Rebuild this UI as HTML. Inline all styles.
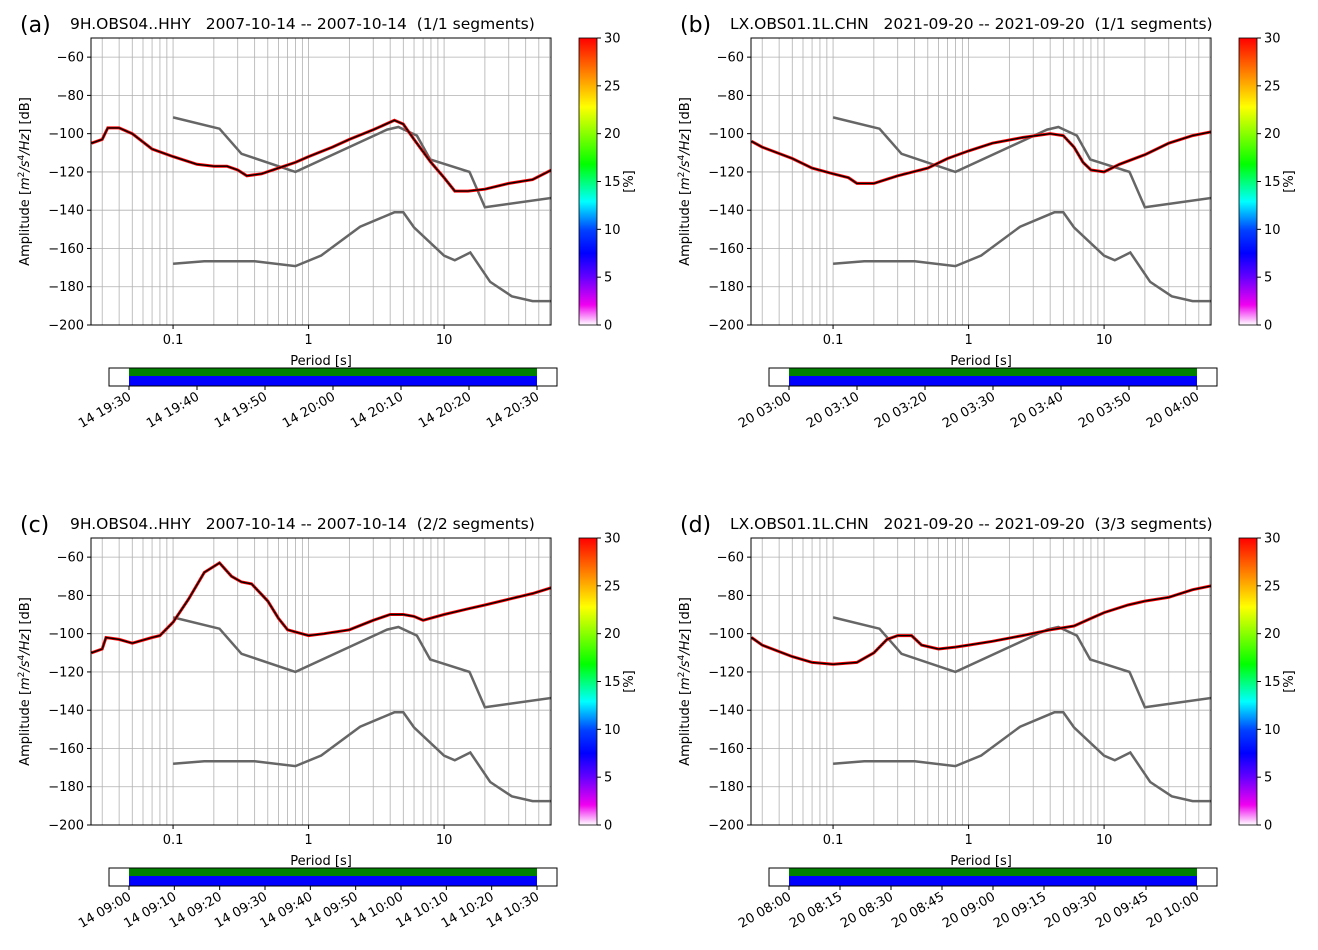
<!DOCTYPE html>
<html><head><meta charset="utf-8"><style>
body{margin:0;background:#fff}
svg{display:block;font-family:"DejaVu Sans","Liberation Sans",sans-serif}
.pre{white-space:pre}
</style></head><body>
<svg id="fig" width="1318" height="950" viewBox="0 0 1318 950" xmlns="http://www.w3.org/2000/svg">
<defs>
<linearGradient id="cmap" x1="0" y1="1" x2="0" y2="0">
<stop offset="0" stop-color="#ffffff"/><stop offset="0.07" stop-color="#f000f0"/>
<stop offset="0.17" stop-color="#6000ff"/><stop offset="0.25" stop-color="#0000ff"/>
<stop offset="0.33" stop-color="#0040ff"/><stop offset="0.43" stop-color="#00ffff"/>
<stop offset="0.56" stop-color="#00ff00"/><stop offset="0.76" stop-color="#ffff00"/>
<stop offset="0.88" stop-color="#ff8000"/><stop offset="1" stop-color="#ff0000"/>
</linearGradient>
</defs>
</svg>
<script>
// Noise models (period s, dB)
const nhnmPeriods=[0.1,0.22,0.32,0.8,3.8,4.6,6.3,7.9,15.4,20,354.8];
const nhnmValues=[-91.5,-97.4,-110.5,-120,-97.9,-96.5,-101,-113.5,-120,-138.5,-126];
const nlnmPeriods=[0.1,0.17,0.4,0.8,1.24,2.4,4.3,5,6,10,12,15.6,21.9,31.6,45,70];
const nlnmValues=[-168,-166.7,-166.7,-169.2,-163.7,-148.6,-141.1,-141.1,-149,-163.8,-166.2,-162.1,-177.5,-185,-187.5,-187.5];
// Panel data
const periodsA=[0.025,0.03,0.033,0.04,0.05,0.07,0.1,0.15,0.2,0.25,0.3,0.35,0.45,0.6,0.8,1,1.5,2,3,4.3,5,6,8,10,12,15,20,30,45,62];
const valuesA=[-105,-103,-97,-97,-100,-108,-112,-116,-117,-117,-119,-122,-121,-118,-115,-112,-107,-103,-98,-93,-95,-103,-115,-123,-130,-130,-129,-126,-124,-119];
const periodsB=[0.025,0.03,0.05,0.07,0.1,0.13,0.15,0.2,0.3,0.5,0.7,1,1.5,2.5,4,5,6,7,8,10,13,20,30,45,62];
const valuesB=[-104,-107,-113,-118,-121,-123,-126,-126,-122,-118,-113,-109,-105,-102,-100,-101,-107,-115,-119,-120,-116,-111,-105,-101,-99];
const periodsC=[0.025,0.03,0.032,0.04,0.05,0.07,0.08,0.1,0.13,0.17,0.22,0.27,0.32,0.38,0.5,0.6,0.7,1,1.3,2,3,4,5,6,7,10,15,20,30,45,62];
const valuesC=[-110,-108,-102,-103,-105,-102,-101,-94,-82,-68,-63,-70,-73,-74,-83,-92,-98,-101,-100,-98,-93,-90,-90,-91,-93,-90,-87,-85,-82,-79,-76];
const periodsD=[0.025,0.03,0.05,0.07,0.1,0.15,0.2,0.25,0.3,0.38,0.45,0.6,0.8,1,1.5,2.5,4,6,8,10,15,20,30,45,62];
const valuesD=[-102,-106,-112,-115,-116,-115,-110,-103,-101,-101,-106,-108,-107,-106,-104,-101,-98,-96,-92,-89,-85,-83,-81,-77,-75];
const yTicks=[-60,-80,-100,-120,-140,-160,-180,-200];
const cbTicks=[0,5,10,15,20,25,30];
const timeLabelsA=["14 19:30","14 19:40","14 19:50","14 20:00","14 20:10","14 20:20","14 20:30"];
const timeLabelsB=["20 03:00","20 03:10","20 03:20","20 03:30","20 03:40","20 03:50","20 04:00"];
const timeLabelsC=["14 09:00","14 09:10","14 09:20","14 09:30","14 09:40","14 09:50","14 10:00","14 10:10","14 10:20","14 10:30"];
const timeLabelsD=["20 08:00","20 08:15","20 08:30","20 08:45","20 09:00","20 09:15","20 09:30","20 09:45","20 10:00"];

const NS="http://www.w3.org/2000/svg";
const svg=document.getElementById('fig');
function el(tag,attrs,parent,text){const e=document.createElementNS(NS,tag);for(const k in attrs)e.setAttribute(k,attrs[k]);if(text!==undefined)e.textContent=text;(parent||svg).appendChild(e);return e;}

const panels=[
 {id:'a',ox:0,oy:0,title:'9H.OBS04..HHY   2007-10-14 -- 2007-10-14  (1/1 segments)',p:periodsA,v:valuesA,tl:timeLabelsA},
 {id:'b',ox:660,oy:0,title:'LX.OBS01.1L.CHN   2021-09-20 -- 2021-09-20  (1/1 segments)',p:periodsB,v:valuesB,tl:timeLabelsB},
 {id:'c',ox:0,oy:500,title:'9H.OBS04..HHY   2007-10-14 -- 2007-10-14  (2/2 segments)',p:periodsC,v:valuesC,tl:timeLabelsC},
 {id:'d',ox:660,oy:500,title:'LX.OBS01.1L.CHN   2021-09-20 -- 2021-09-20  (3/3 segments)',p:periodsD,v:valuesD,tl:timeLabelsD}
];

panels.forEach(P=>{
 const L=91+P.ox,R=551+P.ox,T=38+P.oy,B=325+P.oy;
 const lmin=Math.log10(0.0248),lmax=Math.log10(61.5);
 const xs=p=>L+(Math.log10(p)-lmin)/(lmax-lmin)*(R-L);
 const ys=v=>B-(v+200)/150*(B-T);
 const g=el('g',{},svg);
 
 
 const clip=el('clipPath',{id:'clip'+P.id},g);
 el('rect',{x:L,y:T,width:R-L,height:B-T},clip);
 const grid=el('g',{stroke:'#b0b0b0','stroke-width':0.8},g);
 
 
 for(let e=-2;e<=1;e++)for(let m=1;m<10;m++){const p=m*Math.pow(10,e);const x=xs(p);if(x>L&&x<R)el('line',{x1:x,x2:x,y1:T,y2:B},grid);}
 yTicks.forEach(v=>{const y=ys(v);el('line',{x1:L,x2:R,y1:y,y2:y},grid);});
 const path=(ps,vs)=>ps.map((p,i)=>(i?'L':'M')+xs(p).toFixed(1)+','+ys(vs[i]).toFixed(1)).join('');
 const cg=el('g',{'clip-path':'url(#clip'+P.id+')'},g);
 const nh=el('path',{d:path(nhnmPeriods,nhnmValues),fill:'none',stroke:'#666','stroke-width':2.5},cg);
 
 
 const nl=el('path',{d:path(nlnmPeriods,nlnmValues),fill:'none',stroke:'#666','stroke-width':2.5},cg);
 
 
 const red=el('path',{d:path(P.p,P.v),fill:'none',stroke:'#ff0000','stroke-width':3},cg);
 
 
 const blk=el('path',{d:path(P.p,P.v),fill:'none',stroke:'#000','stroke-width':1.4},cg);
 
 
 el('rect',{x:L,y:T,width:R-L,height:B-T,fill:'none',stroke:'#000','stroke-width':1},g);
 yTicks.forEach(v=>{const y=ys(v);el('line',{x1:L-4,x2:L,y1:y,y2:y,stroke:'#000'},g);
  const t=el('text',{x:L-7,y:y+4.5,'text-anchor':'end','font-size':13},g,'\u2212'+Math.abs(v));
  });
 [0.1,1,10].forEach(p=>{const x=xs(p);el('line',{x1:x,x2:x,y1:B,y2:B+4,stroke:'#000'},g);
  const t=el('text',{x:x,y:B+19,'text-anchor':'middle','font-size':13},g,String(p));
  });
 const xl=el('text',{x:(L+R)/2,y:B+40,'text-anchor':'middle','font-size':13},g,'Period [s]');
 
 const yl=el('text',{x:0,y:0,'text-anchor':'middle','font-size':13,transform:`translate(${P.ox+29},${(T+B)/2}) rotate(-90)`},g);
 
 yl.innerHTML='Amplitude [<tspan font-style="italic">m</tspan><tspan font-size="9" dy="-5">2</tspan><tspan dy="5" font-style="italic">/s</tspan><tspan font-size="9" dy="-5">4</tspan><tspan dy="5" font-style="italic">/Hz</tspan>] [dB]';
 const pl=el('text',{x:P.ox+20,y:P.oy+32,'font-size':22},g,'('+P.id+')');
 
 const tt=el('text',{x:P.ox+70,y:P.oy+29,'font-size':15.5,'class':'pre'},g,P.title);
 
 const cx=579+P.ox;
 const cb=el('rect',{x:cx,y:T,width:18,height:B-T,fill:'url(#cmap)',stroke:'#000','stroke-width':0.8},g);
 
 cbTicks.forEach(v=>{const y=B-v/30*(B-T);el('line',{x1:cx+18,x2:cx+22,y1:y,y2:y,stroke:'#000'},g);
  const t=el('text',{x:cx+25,y:y+4.5,'font-size':13},g,String(v));
  });
 const cl=el('text',{x:0,y:0,'text-anchor':'middle','font-size':13,transform:`translate(${cx+54},${(T+B)/2}) rotate(-90)`},g,'[%]');
 
 const tx0=109+P.ox,tx1=557+P.ox,ty=368+P.oy,d0=129+P.ox,d1=537+P.ox;
 el('rect',{x:d0,y:ty,width:d1-d0,height:8,fill:'#008000'},g);
 el('rect',{x:d0,y:ty+8,width:d1-d0,height:10,fill:'#0000ff'},g);
 const tb=el('rect',{x:tx0,y:ty,width:tx1-tx0,height:18,fill:'none',stroke:'#000','stroke-width':1},g);
 
 const n=P.tl.length;
 P.tl.forEach((s,i)=>{const x=d0+i*(d1-d0)/(n-1);el('line',{x1:x,x2:x,y1:ty+18,y2:ty+22,stroke:'#000'},g);
  const t=el('text',{x:0,y:0,'text-anchor':'end','font-size':13,'class':'pre',transform:`translate(${x+3},${ty+31}) rotate(-30)`},g,s);
  });
});
</script>
</body></html>
